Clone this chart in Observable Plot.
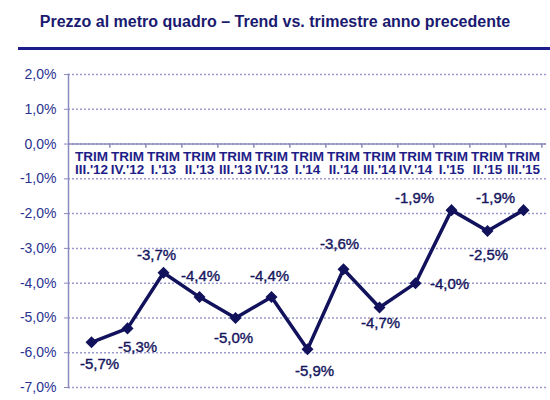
<!DOCTYPE html>
<html>
<head>
<meta charset="utf-8">
<script src="https://cdn.jsdelivr.net/npm/d3@7"></script>
<script src="https://cdn.jsdelivr.net/npm/@observablehq/plot@0.6"></script>
<style>
  body { margin: 0; background: #fff; font-family: "Liberation Sans", Arial, sans-serif; }
  #title {
    margin-left: 18px; height: 47px; border-bottom: 3px solid #1c1c8c;
    display: flex; align-items: center; justify-content: center;
  }
  #title span { font-weight: bold; font-size: 16px; color: #1a1a70; margin-left: -18px; margin-top: -4px; }
  #chart svg { display: block; }
</style>
</head>
<body>
<div id="title"><span>Prezzo al metro quadro – Trend vs. trimestre anno precedente</span></div>
<div id="chart"></div>
<script>
// Trimestri e variazione % vs. stesso trimestre anno precedente
const trimestri = ["III.'12", "IV.'12", "I.'13", "II.'13", "III.'13", "IV.'13", "I.'14", "II.'14", "III.'14", "IV.'14", "I.'15", "II.'15", "III.'15"]
const variazioni = [-5.7, -5.3, -3.7, -4.4, -5.0, -4.4, -5.9, -3.6, -4.7, -4.0, -1.9, -2.5, -1.9]
const yTicks = [2, 1, 0, -1, -2, -3, -4, -5, -6, -7]

const data = trimestri.map((t, i) => ({trimestre: t, valore: variazioni[i]}))

// posizione delle etichette rispetto al punto (dx, dy)
const offsets = [[8, 22], [10, 19], [-7, -18], [1, -21], [-2, 20], [-2, -21], [7, 22],
                 [-4, -25], [1, 16], [34, 1], [-37, -12], [1, 24], [-28, -12]]

const fmt = d => d.toFixed(1).replace(".", ",") + "%"
const navy = "#12125c"
const W = 550, ML = 68, MR = 4
const step = (W - ML - MR) / trimestri.length

let chart = Plot.plot({
  width: W,
  height: 350,
  marginTop: 24,
  marginBottom: 13,
  marginLeft: ML,
  marginRight: MR,
  style: {fontFamily: "Liberation Sans, Arial, sans-serif", background: "white"},
  x: {type: "point", domain: trimestri, padding: 0.5, axis: null},
  y: {domain: [-7, 2]},
  marks: [
    Plot.gridY(yTicks, {stroke: "#9a9acc", strokeOpacity: 1, strokeDasharray: "2,2", strokeWidth: 1.5}),
    Plot.ruleY([0], {stroke: "#8a8abf", strokeWidth: 1.5}),
    Plot.frame({anchor: "left", stroke: "#8a8abf", strokeWidth: 1.5}),
    Plot.axisY(yTicks, {
      tickFormat: fmt, tickSize: 4, tickPadding: 8, stroke: "#8a8abf",
      fontSize: 14, fill: "#2a3290", label: null
    }),
    // tacche sull'asse dello zero, tra i trimestri
    Plot.ruleX(trimestri, {x: d => d, dx: step / 2, y1: 0, y2: -0.12, stroke: "#8a8abf", strokeWidth: 1.5}),
    Plot.text(trimestri, {
      x: d => d, y: 0, text: d => "TRIM\n" + d, dy: 7, lineAnchor: "top", lineHeight: 1.0,
      fontSize: 13.5, fontWeight: "bold", fill: "#1e1e88"
    }),
    Plot.line(data, {x: "trimestre", y: "valore", stroke: navy, strokeWidth: 3.5}),
    Plot.dot(data, {x: "trimestre", y: "valore", symbol: "square", rotate: 45, r: 4.8, fill: navy, stroke: "none"}),
    ...data.map((d, i) => Plot.text([d], {
      x: "trimestre", y: "valore", text: d => fmt(d.valore),
      dx: offsets[i][0], dy: offsets[i][1], fontSize: 15,
      fill: "#16165e", stroke: "#16165e", strokeWidth: 0.4
    }))
  ]
})

d3.select('#chart').append(() => chart)
</script>
</body>
</html>
